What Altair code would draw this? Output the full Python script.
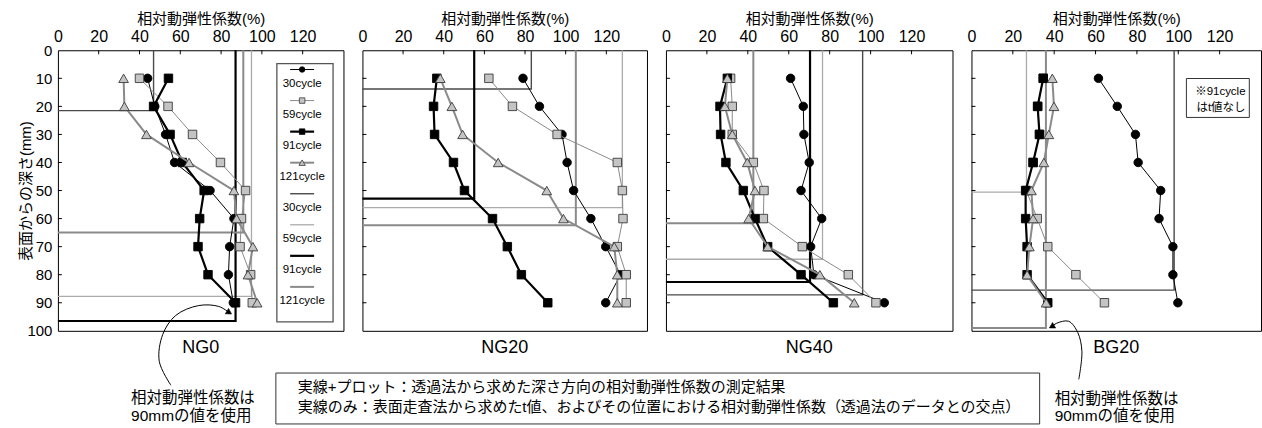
import altair as alt
import pandas as pd

LATIN = "Liberation Sans"
JP = "Liberation Sans, Noto Sans CJK JP"

panels = ["NG0", "NG20", "NG40", "BG20"]
cycles = ["30cycle", "59cycle", "91cycle", "121cycle"]
depths = [10, 20, 30, 40, 50, 60, 70, 80, 90]
x_ticks = [0, 20, 40, 60, 80, 100, 120]
y_ticks = [0, 10, 20, 30, 40, 50, 60, 70, 80, 90, 100]

x_title = "相対動弾性係数(%)"
y_title = "表面からの深さ(mm)"

# transmission method: relative dynamic modulus (%) at each depth (mm)
ng0_30 = [44.0, 47.5, 52.8, 57.2, 74.6, 86.3, 84.2, 83.6, 86.0]
ng0_59 = [40.0, 54.0, 66.0, 79.7, 92.0, 90.0, 89.3, 94.5, 95.3]
ng0_91 = [54.2, 46.9, 55.0, 61.0, 71.7, 69.5, 68.7, 73.6, 87.1]
ng0_121 = [32.2, 32.6, 43.4, 64.3, 86.3, 87.6, 95.6, 93.2, 97.7]

ng20_30 = [79.0, 87.1, 98.2, 100.7, 103.9, 112.4, 119.7, 127.0, 119.7]
ng20_59 = [62.2, 73.8, 95.8, 125.4, 127.9, 128.2, 125.4, 129.8, 129.8]
ng20_91 = [36.6, 35.0, 35.5, 44.8, 50.2, 64.0, 71.3, 78.2, 91.2]
ng20_121 = [38.3, 44.0, 49.3, 66.8, 90.7, 98.9, 123.9, 125.4, 125.4]

ng40_30 = [60.9, 67.1, 67.4, 70.0, 66.0, 76.1, 70.7, 72.3, 106.7]
ng40_59 = [31.6, 32.4, 32.4, 42.7, 47.9, 47.6, 66.6, 89.1, 102.6]
ng40_91 = [30.0, 26.4, 26.7, 29.3, 37.8, 43.5, 49.7, 66.0, 81.8]
ng40_121 = [30.0, 28.8, 32.4, 39.7, 43.5, 40.4, 49.7, 75.2, 92.0]

bg20_30 = [61.4, 70.5, 79.3, 80.6, 91.5, 90.7, 97.4, 97.4, 99.8]
bg20_59 = [34.7, 32.0, 32.9, 29.8, 26.5, 31.8, 36.9, 50.5, 64.3]
bg20_91 = [34.7, 32.0, 32.9, 29.8, 26.2, 26.2, 26.9, 26.9, 36.9]
bg20_121 = [39.1, 39.9, 37.4, 35.0, 29.0, 29.8, 28.0, 26.9, 36.1]

# surface scanning: t value (mm) and the modulus at that depth, per cycle
ng0_t_value = [46.9, 94.9, 87.1, 90.9]
ng0_t_depth = [21.5, 87.7, 96.5, 65.0]
ng20_t_value = [83.1, 127.9, 55.0, 105.0]
ng20_t_depth = [13.8, 56.1, 52.9, 62.4]
ng40_t_value = [96.1, 76.5, 70.4, 42.7]
ng40_t_depth = [87.2, 74.5, 82.6, 61.7]
bg20_t_value = [98.0, 26.6, None, 36.0]
bg20_t_depth = [85.5, 50.6, None, 99.0]

# curved call-out arrows (data units of their panel)
arrow_ng0_value = [55.4, 49.7, 51.4, 57.8, 69.0, 78.8, 84.0]
arrow_ng0_depth = [119.4, 110.9, 101.3, 94.5, 91.0, 91.3, 93.5]
arrow_bg20_value = [51.9, 53.4, 51.4, 47.0, 41.2, 38.8]
arrow_bg20_depth = [117.3, 107.3, 100.6, 96.6, 97.3, 98.5]

callout_lines = ["相対動弾性係数は", "90mmの値を使用"]
note_lines = [
    "実線+プロット：透過法から求めた深さ方向の相対動弾性係数の測定結果",
    "実線のみ：表面走査法から求めたt値、およびその位置における相対動弾性係数（透過法のデータとの交点）",
]
bg20_note = ["※91cycle", "はt値なし"]

profile_table = {
    "NG0": [ng0_30, ng0_59, ng0_91, ng0_121],
    "NG20": [ng20_30, ng20_59, ng20_91, ng20_121],
    "NG40": [ng40_30, ng40_59, ng40_91, ng40_121],
    "BG20": [bg20_30, bg20_59, bg20_91, bg20_121],
}
t_table = {
    "NG0": (ng0_t_value, ng0_t_depth),
    "NG20": (ng20_t_value, ng20_t_depth),
    "NG40": (ng40_t_value, ng40_t_depth),
    "BG20": (bg20_t_value, bg20_t_depth),
}

rows = []
for p in panels:
    for c, vals in zip(cycles, profile_table[p]):
        for d, v in zip(depths, vals):
            rows.append({"panel": p, "cycle": c, "depth": d, "value": v})
profiles = pd.DataFrame(rows)

srows = []
for p in panels:
    tv, td = t_table[p]
    for c, v, t in zip(cycles, tv, td):
        if v is None:
            continue
        for seq, (xx, yy) in enumerate([(v, 0.0), (v, t), (0.0, t)]):
            srows.append({"panel": p, "cycle": c, "seq": seq, "value": xx, "depth": yy})
steps = pd.DataFrame(srows)

# series styles: measured profile (line + marker) and t-value step lines
profile_style = {
    "30cycle": dict(line="#000000", lw=1.0, shape="circle", fill="#000000", stroke="#000000", size=72),
    "59cycle": dict(line="#8a8a8a", lw=1.0, shape="square", fill="#c4c4c4", stroke="#3a3a3a", size=72),
    "91cycle": dict(line="#000000", lw=2.2, shape="square", fill="#000000", stroke="#000000", size=72),
    "121cycle": dict(line="#8a8a8a", lw=2.0, shape="triangle-up", fill="#c4c4c4", stroke="#3a3a3a", size=95),
}
step_style = {
    "30cycle": dict(color="#4a4a4a", lw=1.4),
    "59cycle": dict(color="#ababab", lw=1.3),
    "91cycle": dict(color="#000000", lw=2.2),
    "121cycle": dict(color="#8a8a8a", lw=2.0),
}

panel_widths = [286, 285, 287, 290]
H = 281

xscale = alt.Scale(domain=[0, 140], nice=False, zero=False)
yscale = alt.Scale(domain=[0, 100], reverse=True, nice=False, zero=False)

xaxis = alt.Axis(
    orient="top", values=x_ticks, title=x_title, ticks=False, tickSize=0,
    domain=False, grid=False, labelFont=LATIN, labelFontSize=16,
    labelPadding=6, labelFlush=False, labelOverlap=False, labelColor="black",
    titleFont=JP, titleFontSize=15, titleFontWeight="normal",
    titlePadding=2, titleColor="black",
)
yaxis_first = alt.Axis(
    orient="left", values=y_ticks, title=y_title, ticks=False, tickSize=0,
    domain=False, grid=False, labelFont=LATIN, labelFontSize=15,
    labelPadding=6, labelFlush=False, labelOverlap=False, labelColor="black",
    titleFont=JP, titleFontSize=15, titleFontWeight="normal",
    titleColor="black", titleAngle=270, titleX=-24, titleY=H / 2,
    titleAlign="center", titleBaseline="bottom",
)

one = pd.DataFrame({"k": [0]})


def X():
    return alt.X("value:Q", scale=xscale, axis=xaxis)


def Y(yaxis):
    return alt.Y("depth:Q", scale=yscale, axis=yaxis)


def pixel_text(txt, x, y, size, font=JP, align="left"):
    return alt.Chart(one).mark_text(
        text=txt, font=font, fontSize=size, align=align, baseline="middle", color="black"
    ).encode(x=alt.value(x), y=alt.value(y))


def pixel_box(x0, x1, y0, y1, stroke="#333333", sw=1.0):
    return alt.Chart(one).mark_rect(
        fill="white", stroke=stroke, strokeWidth=sw
    ).encode(x=alt.value(x0), x2=alt.value(x1), y=alt.value(y0), y2=alt.value(y1))


def arrow(vals, deps, angle, yaxis):
    adf = pd.DataFrame({"value": vals, "depth": deps, "seq": list(range(len(vals)))})
    curve = alt.Chart(adf).mark_line(
        interpolate="catmull-rom", color="black", strokeWidth=1, clip=False
    ).encode(x=X(), y=Y(yaxis), order="seq:Q")
    head = alt.Chart(adf.tail(1)).mark_point(
        shape="triangle-right", angle=angle, filled=True, fill="black",
        stroke="black", strokeWidth=0.5, size=40, opacity=1, clip=False
    ).encode(x=X(), y=Y(yaxis))
    return [curve, head]


def legend_layers():
    layers = [pixel_box(219.3, 275.6, 13.3, 272.0, stroke="#555555", sw=1.3)]
    x0, x1, xc = 232.6, 256.6, 244.6
    for i, c in enumerate(cycles + cycles):
        ly = 19.3 + 31.1 * i
        if i < 4:
            st = profile_style[c]
            color, lw = st["line"], st["lw"]
        else:
            st = None
            color, lw = step_style[c]["color"], step_style[c]["lw"]
        layers.append(
            alt.Chart(one).mark_rule(color=color, strokeWidth=lw).encode(
                x=alt.value(x0), x2=alt.value(x1), y=alt.value(ly)
            )
        )
        if st is not None:
            layers.append(
                alt.Chart(one).mark_point(
                    shape=st["shape"], filled=True, fill=st["fill"], stroke=st["stroke"],
                    strokeWidth=0.8, size=st["size"] * 0.42, opacity=1,
                ).encode(x=alt.value(xc), y=alt.value(ly))
            )
        layers.append(pixel_text(c, xc, ly + 14.5, 11.5, font=LATIN, align="center"))
    return layers


def panel_chart(p, idx):
    W = panel_widths[idx]
    yaxis = yaxis_first if idx == 0 else None
    layers = []
    # t-value step lines (vertical from the top, then horizontal at the t depth)
    for c in cycles:
        sub = steps[(steps.panel == p) & (steps.cycle == c)]
        if sub.empty:
            continue
        st = step_style[c]
        layers.append(
            alt.Chart(sub).mark_line(color=st["color"], strokeWidth=st["lw"]).encode(
                x=X(), y=Y(yaxis), order="seq:Q"
            )
        )
    # measured profiles
    for c in cycles:
        sub = profiles[(profiles.panel == p) & (profiles.cycle == c)]
        st = profile_style[c]
        layers.append(
            alt.Chart(sub).mark_line(color=st["line"], strokeWidth=st["lw"]).encode(
                x=X(), y=Y(yaxis), order="depth:Q"
            )
        )
        layers.append(
            alt.Chart(sub).mark_point(
                shape=st["shape"], filled=True, fill=st["fill"], stroke=st["stroke"],
                strokeWidth=0.9, size=st["size"], opacity=1,
            ).encode(x=X(), y=Y(yaxis))
        )
    # inward tick marks
    layers.append(
        alt.Chart(pd.DataFrame({"value": x_ticks[1:]})).mark_rule(
            color="black", strokeWidth=1
        ).encode(x=X(), y=alt.value(0), y2=alt.value(4))
    )
    layers.append(
        alt.Chart(pd.DataFrame({"depth": y_ticks[1:-1]})).mark_rule(
            color="black", strokeWidth=1
        ).encode(y=Y(yaxis), x=alt.value(0), x2=alt.value(4))
    )
    # panel name under the plot
    layers.append(
        alt.Chart(pd.DataFrame({"name": [p]})).mark_text(
            font=LATIN, fontSize=18, baseline="middle", align="center", color="black"
        ).encode(x=alt.value(W / 2), y=alt.value(H + 17), text="name:N")
    )

    if p == "NG0":
        layers += legend_layers()
        layers += arrow(arrow_ng0_value, arrow_ng0_depth, 32, yaxis)
        layers.append(pixel_text(callout_lines[0], 73.3, 348.3, 15.5))
        layers.append(pixel_text(callout_lines[1], 73.3, 366.3, 15.5))
        layers.append(pixel_box(218.3, 983.3, 323.3, 374.3))
        layers.append(pixel_text(note_lines[0], 240.3, 337.3, 15))
        layers.append(pixel_text(note_lines[1], 240.3, 357.3, 15))
    if p == "BG20":
        layers.append(pixel_box(215.3, 278.3, 28.3, 67.3, stroke="#333333", sw=1.0))
        layers.append(pixel_text(bg20_note[0], 274.5, 42.0, 11.5, align="right"))
        layers.append(pixel_text(bg20_note[1], 274.5, 57.6, 11.5, align="right"))
        layers += arrow(arrow_bg20_value, arrow_bg20_depth, 151, yaxis)
        layers.append(pixel_text(callout_lines[0], 83.3, 349.3, 15.5))
        layers.append(pixel_text(callout_lines[1], 83.3, 366.3, 15.5))

    return alt.layer(*layers).properties(width=W, height=H)


panel_charts = [panel_chart(p, i) for i, p in enumerate(panels)]

chart = (
    alt.hconcat(*panel_charts, spacing=19, bounds="flush")
    .properties(padding={"left": 18, "top": 10, "right": 0, "bottom": 0}, background="white")
    .configure_view(stroke="black", strokeWidth=1)
)

chart.save("out.html", embed_options={"renderer": "svg", "actions": False})
